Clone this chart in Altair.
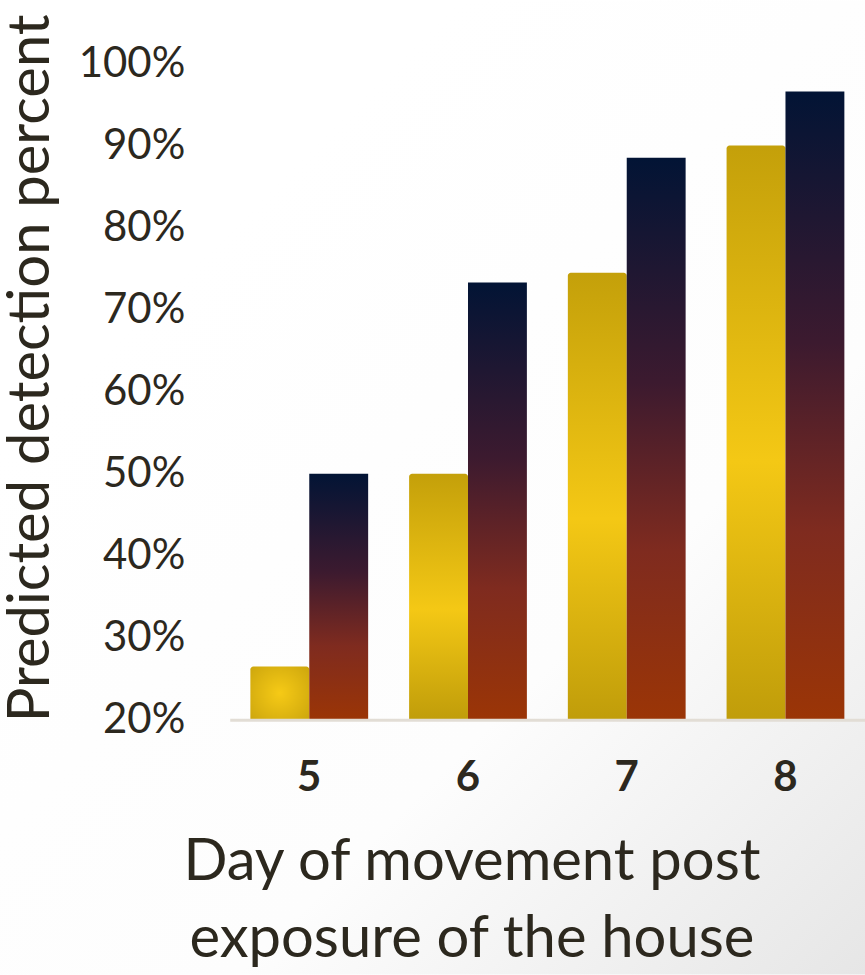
import altair as alt
import pandas as pd

days = ["5", "6", "7", "8"]
gold_vals = [0.265, 0.50, 0.745, 0.90]
dark_vals = [0.50, 0.733, 0.885, 0.966]
series_names = ["A", "B"]
y_ticks = [0.2, 0.3, 0.4, 0.5, 0.6, 0.7, 0.8, 0.9, 1.0]

rows = []
for d, g, k in zip(days, gold_vals, dark_vals):
    rows.append({"day": d, "series": series_names[0], "value": g})
    rows.append({"day": d, "series": series_names[1], "value": k})
df = pd.DataFrame(rows)

FONT = "Lato"
TXT = "#2c281e"

gold_grad = alt.LinearGradient(
    gradient="linear",
    stops=[
        alt.GradientStop(offset=0, color="#c4a00a"),
        alt.GradientStop(offset=0.55, color="#f4c815"),
        alt.GradientStop(offset=1, color="#c09d0a"),
    ],
    x1=0, x2=0, y1=0, y2=1,
)
gold_radial = alt.RadialGradient(
    gradient="radial",
    stops=[
        alt.GradientStop(offset=0, color="#f6ca16"),
        alt.GradientStop(offset=1, color="#c8a20c"),
    ],
    x1=0.5, y1=0.5, x2=0.5, y2=0.5, r1=0, r2=0.75,
)
dark_grad = alt.LinearGradient(
    gradient="linear",
    stops=[
        alt.GradientStop(offset=0, color="#021435"),
        alt.GradientStop(offset=0.4, color="#3c1a2f"),
        alt.GradientStop(offset=0.7, color="#7f2b1f"),
        alt.GradientStop(offset=1, color="#9b3506"),
    ],
    x1=0, x2=0, y1=0, y2=1,
)
bg_grad = alt.LinearGradient(
    gradient="linear",
    stops=[
        alt.GradientStop(offset=0, color="#ffffff"),
        alt.GradientStop(offset=0.55, color="#fdfdfd"),
        alt.GradientStop(offset=1, color="#e6e6e6"),
    ],
    x1=0.3, y1=0.2, x2=1, y2=1,
)

W, H = 636, 657

x_enc = alt.X(
    "day:O",
    sort=days,
    scale=alt.Scale(paddingInner=0.258, paddingOuter=0.13),
    axis=alt.Axis(
        title=["Day of movement post", "exposure of the house"],
        titleFont=FONT, titleFontSize=58, titleFontWeight="normal", titleColor=TXT,
        titleX=242, titleY=160, titleAlign="center", titleBaseline="alphabetic",
        titleLineHeight=77,
        labelFont=FONT, labelFontSize=42, labelFontWeight="bold", labelColor=TXT,
        labelAngle=0, labelPadding=38,
        ticks=False, domainColor="#e2ddd5", domainWidth=3, zindex=1,
    ),
)
xoff = alt.XOffset("series:N", scale=alt.Scale(domain=series_names))
y_enc = alt.Y(
    "value:Q",
    scale=alt.Scale(domain=[0.2, 1.0], zero=False, nice=False),
    axis=alt.Axis(
        title="Predicted detection percent",
        titleFont=FONT, titleFontSize=58, titleFontWeight="normal", titleColor=TXT,
        titleAngle=270, titleX=-181, titleY=659, titleAlign="left",
        titleBaseline="alphabetic",
        values=y_ticks, format=".0%",
        labelFont=FONT, labelFontSize=42, labelColor=TXT, labelPadding=45,
        ticks=False, domain=False, grid=False, zindex=1,
    ),
)

base = alt.Chart(df)

bg = base.mark_rect(fill=bg_grad, clip=False).encode(
    x=alt.value(-230), x2=alt.value(W), y=alt.value(-63), y2=alt.value(H + 255)
).transform_filter(alt.datum.day == "5").transform_filter(alt.datum.series == "A")

gold = base.mark_bar(fill=gold_grad, cornerRadiusTopLeft=3, cornerRadiusTopRight=3).encode(
    x=x_enc, xOffset=xoff, y=y_enc, y2=alt.datum(0.2)
).transform_filter(alt.datum.series == "A").transform_filter(alt.datum.day != "5")

gold5 = base.mark_bar(fill=gold_radial, cornerRadiusTopLeft=3, cornerRadiusTopRight=3).encode(
    x=x_enc, xOffset=xoff, y=y_enc, y2=alt.datum(0.2)
).transform_filter(alt.datum.series == "A").transform_filter(alt.datum.day == "5")

dark = base.mark_bar(fill=dark_grad).encode(
    x=x_enc, xOffset=xoff, y=y_enc, y2=alt.datum(0.2)
).transform_filter(alt.datum.series == "B")

chart = alt.layer(bg, gold, gold5, dark).properties(
    width=W, height=H,
    autosize=alt.AutoSizeParams(type="none"),
    padding={"left": 230, "top": 63, "right": 0, "bottom": 255},
).configure_view(stroke=None).configure(background="white")

chart.save("out.html", embed_options={"renderer": "svg", "actions": False})
